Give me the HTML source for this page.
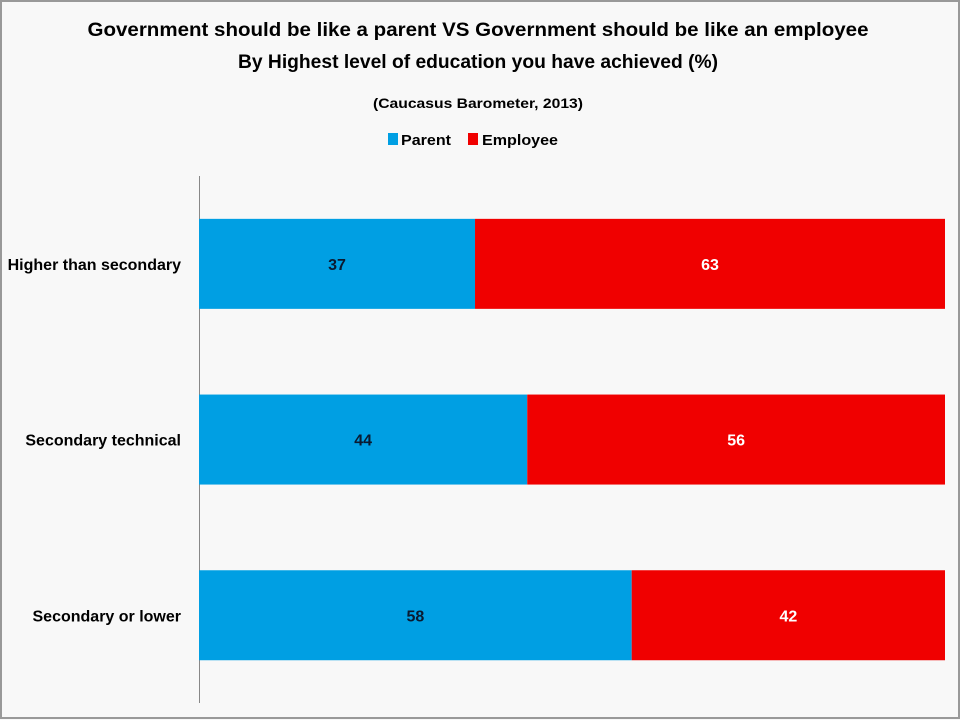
<!DOCTYPE html>
<html><head><meta charset="utf-8"><style>
html,body{margin:0;padding:0;background:#f8f8f8;}
svg{display:block;font-family:"Liberation Sans",sans-serif;font-weight:bold;}
</style></head><body>
<svg width="960" height="720" viewBox="0 0 960 720">
<rect x="1" y="1" width="958" height="717" fill="#f8f8f8" stroke="#999" stroke-width="2"/>
<text x="478" y="36" text-anchor="middle" font-size="19" textLength="781" lengthAdjust="spacingAndGlyphs" fill="#000">Government should be like a parent VS Government should be like an employee</text>
<text x="478" y="68" text-anchor="middle" font-size="19" textLength="480" lengthAdjust="spacingAndGlyphs" fill="#000">By  Highest level of education you have achieved (%)</text>
<text x="478" y="108" text-anchor="middle" font-size="14" textLength="210" lengthAdjust="spacingAndGlyphs" fill="#000">(Caucasus Barometer, 2013)</text>
<g>
<rect x="388" y="133" width="10" height="12" fill="#009fe3"/>
<text x="401" y="145" font-size="15" textLength="50" lengthAdjust="spacingAndGlyphs">Parent</text>
<rect x="468" y="133" width="10" height="12" fill="#f00000"/>
<text x="482" y="145" font-size="15" textLength="76" lengthAdjust="spacingAndGlyphs">Employee</text>
</g>
<line x1="199.5" y1="176" x2="199.5" y2="703" stroke="#888" stroke-width="1"/>
<g id="bars"></g>
</svg>
<script>
const categories = ["Higher than secondary","Secondary technical","Secondary or lower"];
const parentValues = [37,44,58];
const employeeValues = [63,56,42];
const x0 = 199, plotW = 746;
const xs = v => x0 + v / 100 * plotW;
const bandTop = 176, bandH = 175.7, barH = 90;
const ys = i => bandTop + i * bandH + (bandH - barH) / 2;
const ns = "http://www.w3.org/2000/svg";
const g = document.getElementById('bars');
function mk(tag, attrs){const e=document.createElementNS(ns,tag);for(const k in attrs)e.setAttribute(k,attrs[k]);return e;}
categories.forEach((c,i)=>{
  const y = ys(i);
  const p = mk('rect',{x:xs(0),y:y,width:xs(parentValues[i])-xs(0),height:barH,fill:'#009fe3'});
  
  
  g.appendChild(p);
  const e = mk('rect',{x:xs(parentValues[i]),y:y,width:xs(parentValues[i]+employeeValues[i])-xs(parentValues[i]),height:barH,fill:'#f00000'});
  
  
  g.appendChild(e);
  const pl = mk('text',{x:(xs(0)+xs(parentValues[i]))/2,y:y+barH/2+6,'text-anchor':'middle','font-size':'16',fill:'#0a1a30'});
  pl.textContent = parentValues[i];
  
  
  g.appendChild(pl);
  const el = mk('text',{x:(xs(parentValues[i])+xs(parentValues[i]+employeeValues[i]))/2,y:y+barH/2+6,'text-anchor':'middle','font-size':'16',fill:'#fff'});
  el.textContent = employeeValues[i];
  
  
  g.appendChild(el);
  const cl = mk('text',{x:181,y:y+barH/2+6,'text-anchor':'end','font-size':'16',fill:'#000'});
  cl.textContent = c;
  
  
  g.appendChild(cl);
});
</script>
</body></html>
